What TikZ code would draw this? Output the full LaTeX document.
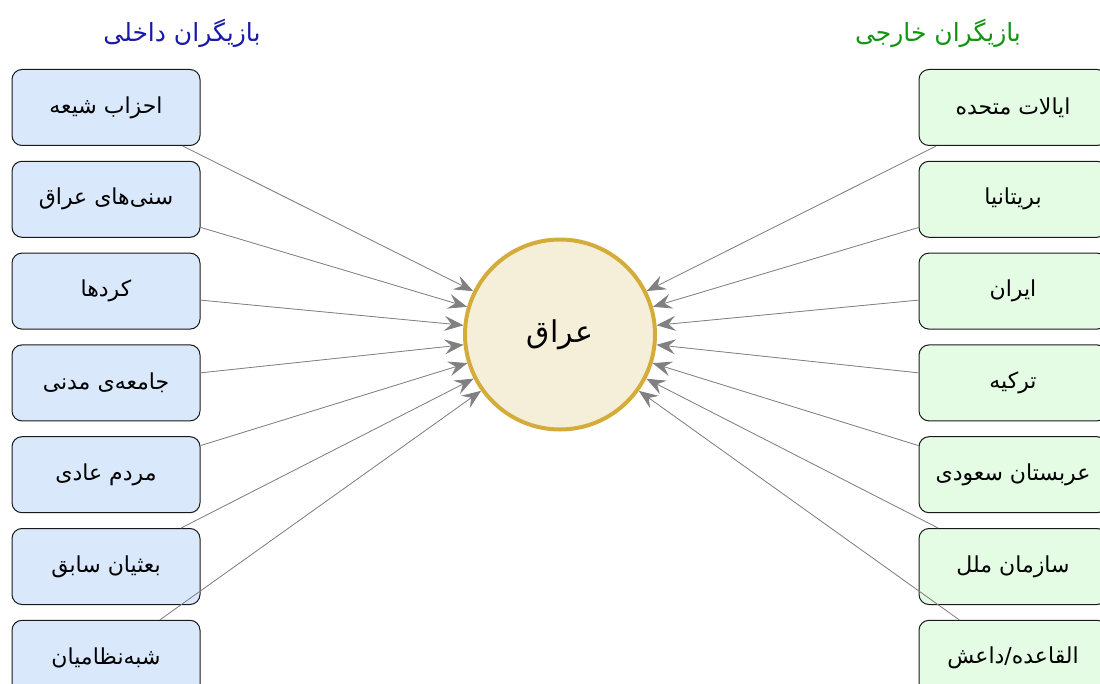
\documentclass[tikz,border=0pt]{standalone}
\usepackage{fontspec}
\usepackage{xcolor}
\usepackage{tikz}
\usetikzlibrary{arrows.meta,positioning}
\TeXXeTstate=1
\newfontfamily\farsifont[Script=Arabic]{DejaVu Sans}
\newcommand{\fa}[1]{\farsifont\beginR #1\endR}
\definecolor{inlandfill}{HTML}{DAE8FC}
\definecolor{abroadfill}{HTML}{E4FCE4}
\definecolor{iraqfill}{HTML}{F5EED9}
\definecolor{iraqline}{HTML}{D4AC3A}
\definecolor{inlandtext}{HTML}{1A1AA6}
\definecolor{abroadtext}{HTML}{129412}

\begin{document}
\begin{tikzpicture}[
x=1pt, y=-1pt,
node distance=14.8pt,
actor/.style={draw=black!90, line width=1pt, rounded corners=10pt, minimum width=188pt, minimum height=76pt, align=center, font=\fontsize{22}{26}\selectfont},
inland/.style={actor, fill=inlandfill},
abroad/.style={actor, fill=abroadfill},
hub/.style={circle, draw=iraqline, line width=4pt, fill=iraqfill, minimum size=190pt, font=\fontsize{30}{34}\selectfont},
head/.style={font=\fontsize{25}{30}\selectfont},
arr/.style={-{Stealth[length=19pt, width=15pt, inset=7pt]}, draw=gray, line width=0.8pt, fill=gray}
]
\useasboundingbox (0,0) rectangle (1100,684);

% titles
\node[head, text=inlandtext] (intitle) at (182,33) {\fa{بازیگران داخلی}};
\node[head, text=abroadtext] (outtitle) at (938,33) {\fa{بازیگران خارجی}};

% center
\node[hub] (iraq) at (560,334.5) {\fa{عراق}};

% domestic actors
\node[inland] (shia) at (106,107.5) {\fa{احزاب شیعه}};
\node[inland, below=of shia] (sunni) {\fa{سنی‌های عراق}};
\node[inland, below=of sunni] (kurds) {\fa{کردها}};
\node[inland, below=of kurds] (civil) {\fa{جامعه‌ی مدنی}};
\node[inland, below=of civil] (people) {\fa{مردم عادی}};
\node[inland, below=of people] (baath) {\fa{بعثیان سابق}};
\node[inland, below=of baath] (militia) {\fa{شبه‌نظامیان}};

% foreign actors
\node[abroad] (usa) at (1013,107.5) {\fa{ایالات متحده}};
\node[abroad, below=of usa] (uk) {\fa{بریتانیا}};
\node[abroad, below=of uk] (iran) {\fa{ایران}};
\node[abroad, below=of iran] (turkey) {\fa{ترکیه}};
\node[abroad, below=of turkey] (saudi) {\fa{عربستان سعودی}};
\node[abroad, below=of saudi] (un) {\fa{سازمان ملل}};
\node[abroad, below=of un] (isis) {\fa{القاعده/داعش}};

\draw[arr] (shia) -- (iraq);
\draw[arr] (sunni) -- (iraq);
\draw[arr] (kurds) -- (iraq);
\draw[arr] (civil) -- (iraq);
\draw[arr] (people) -- (iraq);
\draw[arr] (baath) -- (iraq);
\draw[arr] (militia) -- (iraq);
\draw[arr] (usa) -- (iraq);
\draw[arr] (uk) -- (iraq);
\draw[arr] (iran) -- (iraq);
\draw[arr] (turkey) -- (iraq);
\draw[arr] (saudi) -- (iraq);
\draw[arr] (un) -- (iraq);
\draw[arr] (isis) -- (iraq);
\end{tikzpicture}
\end{document}
